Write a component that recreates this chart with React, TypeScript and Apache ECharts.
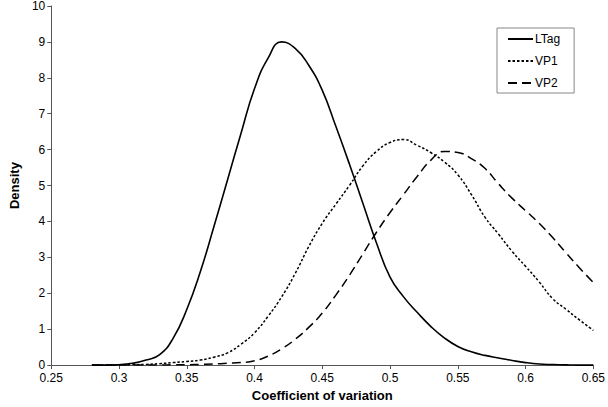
import React, { useEffect, useRef } from "react";
import * as echarts from "echarts";

const xs = [0.28, 0.29, 0.30, 0.31, 0.32, 0.33, 0.34, 0.35, 0.36, 0.37, 0.38, 0.39, 0.40, 0.41, 0.42, 0.43, 0.44, 0.45, 0.46, 0.47, 0.48, 0.49, 0.50, 0.51, 0.52, 0.53, 0.54, 0.55, 0.56, 0.57, 0.58, 0.59, 0.60, 0.61, 0.62, 0.63, 0.64, 0.65];

const ltag = [0, 0, 0.01, 0.05, 0.14, 0.29, 0.75, 1.55, 2.6, 3.85, 5.15, 6.45, 7.7, 8.55, 9.0, 8.82, 8.35, 7.65, 6.65, 5.6, 4.5, 3.4, 2.45, 1.9, 1.47, 1.08, 0.76, 0.52, 0.37, 0.27, 0.2, 0.13, 0.07, 0.03, 0.015, 0.005, 0, 0];

const vp1 = [0, 0, 0, 0.01, 0.02, 0.04, 0.07, 0.1, 0.14, 0.22, 0.34, 0.58, 0.9, 1.36, 1.9, 2.55, 3.3, 3.95, 4.48, 5.0, 5.55, 5.95, 6.2, 6.28, 6.12, 5.92, 5.66, 5.3, 4.75, 4.12, 3.65, 3.17, 2.75, 2.32, 1.85, 1.55, 1.25, 0.97];

const vp2 = [0, 0, 0, 0, 0, 0, 0.01, 0.01, 0.02, 0.03, 0.05, 0.07, 0.12, 0.25, 0.45, 0.72, 1.05, 1.45, 1.95, 2.5, 3.1, 3.7, 4.25, 4.75, 5.25, 5.7, 5.95, 5.92, 5.75, 5.48, 5.05, 4.65, 4.3, 3.95, 3.55, 3.12, 2.7, 2.3];

const seriesNames = ["LTag", "VP1", "VP2"];

const FONT = "'Liberation Sans', Arial, sans-serif";

export default function App() {
  const ref = useRef<HTMLDivElement>(null);
  useEffect(() => {
    if (!ref.current) return;
    const chart = echarts.init(ref.current, undefined, { renderer: "svg" });
    const pairs = (ys: number[]) => xs.map((x, i) => [x, ys[i]]);
    const mk = (name: string, ys: number[], type: any, width: number) => ({
      name,
      type: "line",
      data: pairs(ys),
      smooth: 0.5,
      symbol: "none",
      lineStyle: { color: "#000", width, type },
      itemStyle: { color: "#000" },
    });
    chart.setOption({
      animation: false,
      backgroundColor: "#fff",
      textStyle: { fontFamily: FONT },
      grid: { left: 37, right: 11, top: 5, bottom: 36, containLabel: false },
      legend: {
        orient: "vertical",
        left: 497,
        top: 28,
        width: 77,
        itemWidth: 25,
        itemHeight: 14,
        itemGap: 10,
        padding: [5, 14, 4, 10],
        borderColor: "#888",
        borderWidth: 1,
        itemStyle: { opacity: 0 },
        textStyle: { fontFamily: FONT, fontSize: 12, color: "#000", padding: [0, 0, 0, -3] },
        data: seriesNames,
      },
      xAxis: {
        type: "value",
        min: 0.25,
        max: 0.65,
        interval: 0.05,
        name: "Coefficient of variation",
        nameLocation: "middle",
        nameGap: 17,
        nameTextStyle: { fontFamily: FONT, fontSize: 13, fontWeight: "bold", color: "#000", verticalAlign: "top" },
        axisLine: { lineStyle: { color: "#555", width: 1 } },
        axisTick: { show: true, length: 4, lineStyle: { color: "#555" } },
        axisLabel: {
          fontFamily: FONT,
          fontSize: 12,
          color: "#000",
          margin: 7,
          formatter: (v: number) => String(+v.toFixed(2)),
        },
        splitLine: { show: false },
      },
      yAxis: {
        type: "value",
        min: 0,
        max: 10,
        interval: 1,
        name: "Density",
        nameLocation: "middle",
        nameGap: 27,
        nameRotate: 90,
        nameTextStyle: { fontFamily: FONT, fontSize: 13, fontWeight: "bold", color: "#000" },
        axisLine: { show: true, lineStyle: { color: "#555", width: 1 } },
        axisTick: { show: true, length: 4, lineStyle: { color: "#555" } },
        axisLabel: { fontFamily: FONT, fontSize: 12, color: "#000", margin: 6 },
        splitLine: { show: false },
      },
      series: [
        mk(seriesNames[0], ltag, "solid", 1.6),
        mk(seriesNames[1], vp1, [2.5, 2], 1.5),
        mk(seriesNames[2], vp2, [9, 5], 1.5),
      ],
    });
    return () => chart.dispose();
  }, []);
  return <div ref={ref} style={{ width: 608, height: 407, position: "absolute", left: 0, top: 0 }} />;
}
